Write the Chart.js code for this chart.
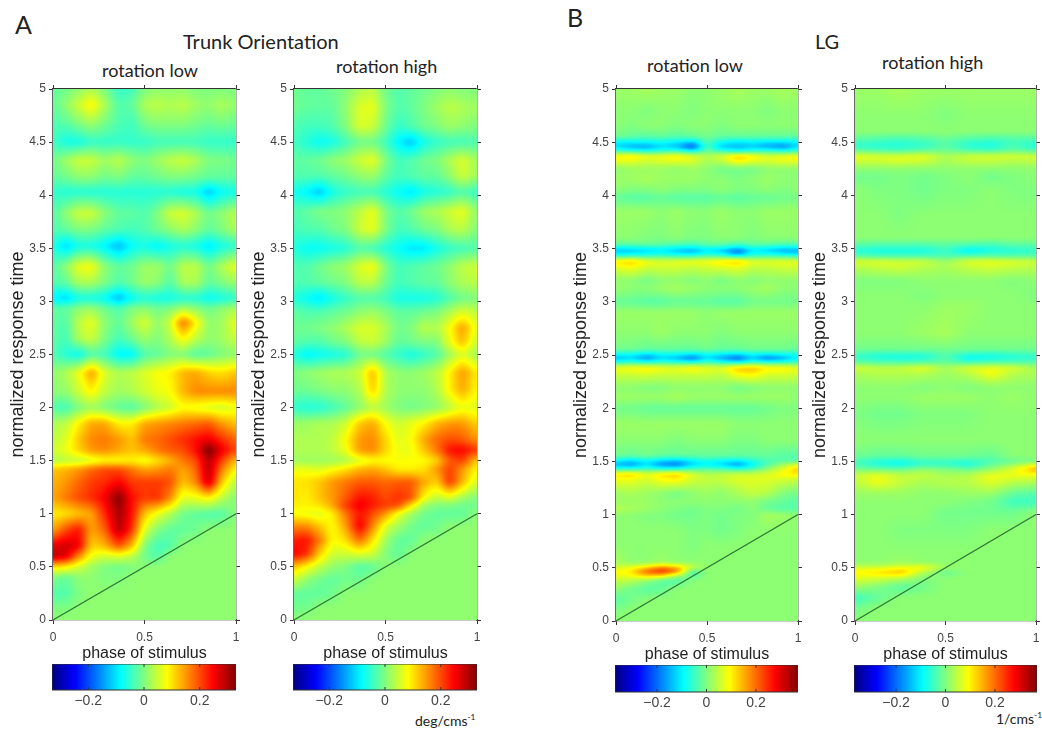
<!DOCTYPE html>
<html>
<head>
<meta charset="utf-8">
<title>Trunk Orientation and LG</title>
<script src="https://cdn.jsdelivr.net/npm/chart.js@4"></script>
<style>
  body { margin: 0; background: #fff; width: 1042px; height: 731px; position: relative; overflow: hidden; }
  canvas { position: absolute; }
  .txt { position: absolute; white-space: nowrap; font-family: Lato, sans-serif; color: #222; line-height: 1; transform: translateY(-50%); }
  .txt sup { font-size: 60%; line-height: 0; }
</style>
</head>
<body>
<div class="txt" style="left:15px;top:24px;font-size:25px">A</div>
<div class="txt" style="left:183px;top:41px;font-size:20px">Trunk Orientation</div>
<div class="txt" style="left:102px;top:70px;font-size:18px">rotation low</div>
<div class="txt" style="left:336px;top:66px;font-size:18px">rotation high</div>
<div class="txt" style="left:567px;top:17px;font-size:25px">B</div>
<div class="txt" style="left:815px;top:41px;font-size:20px">LG</div>
<div class="txt" style="left:647px;top:65px;font-size:18px">rotation low</div>
<div class="txt" style="left:882px;top:62px;font-size:18px">rotation high</div>
<div class="txt" style="left:415px;top:721px;font-size:14px">deg/cms<sup>-1</sup></div>
<div class="txt" style="left:996px;top:719px;font-size:14px">1/cms<sup>-1</sup></div>
<script>
// axis ticks
const xTicks = [0, 0.5, 1];
const yTicks = [0, 0.5, 1, 1.5, 2, 2.5, 3, 3.5, 4, 4.5, 5];
const colorbarTicks = [-0.2, 0, 0.2];
const diagonal = [{ x: 0, y: 0 }, { x: 1, y: 1 }];

// grid columns, phase of stimulus
const colsA = [0, 0.07, 0.14, 0.21, 0.28, 0.36, 0.43, 0.5, 0.57, 0.64, 0.71, 0.78, 0.85, 0.92, 1];
const colsB1 = [0, 0.08, 0.17, 0.25, 0.33, 0.42, 0.5, 0.58, 0.67, 0.75, 0.83, 0.92, 1];
const colsB2 = [0, 0.125, 0.25, 0.375, 0.5, 0.625, 0.75, 0.875, 1];

// grid rows, normalized response time
const rowsA1 = [5, 4.85, 4.7, 4.5, 4.33, 4.17, 4.03, 3.83, 3.68, 3.52, 3.33, 3.18, 3.03, 2.93, 2.8, 2.65, 2.5, 2.33, 2.15, 2, 1.85, 1.7, 1.6, 1.5, 1.42, 1.3, 1.15, 1, 0.85, 0.7, 0.6, 0.5, 0.4, 0.25, 0.1, 0];
const rowsA2 = [5, 4.83, 4.65, 4.5, 4.33, 4.18, 4.03, 3.85, 3.68, 3.5, 3.33, 3.18, 3.03, 2.9, 2.75, 2.62, 2.5, 2.33, 2.17, 2, 1.85, 1.7, 1.6, 1.5, 1.42, 1.3, 1.15, 1.08, 1, 0.88, 0.75, 0.62, 0.5, 0.38, 0.25, 0.12, 0];
const rowsB1 = [5, 4.8, 4.65, 4.55, 4.5, 4.46, 4.42, 4.37, 4.33, 4.25, 4.15, 4.05, 3.98, 3.85, 3.6, 3.54, 3.5, 3.47, 3.43, 3.38, 3.33, 3.2, 3.13, 3, 2.9, 2.7, 2.55, 2.5, 2.47, 2.43, 2.38, 2.33, 2.2, 2.1, 2, 1.85, 1.7, 1.55, 1.5, 1.47, 1.43, 1.38, 1.33, 1.2, 1.12, 1.05, 1, 0.85, 0.7, 0.55, 0.5, 0.47, 0.43, 0.38, 0.3, 0.2, 0.1, 0];
const rowsB2 = [5, 4.75, 4.6, 4.52, 4.47, 4.42, 4.37, 4.33, 4.25, 4.18, 4.05, 3.8, 3.6, 3.53, 3.48, 3.43, 3.38, 3.33, 3.2, 3.05, 2.95, 2.7, 2.55, 2.5, 2.47, 2.43, 2.38, 2.33, 2.2, 2.1, 1.95, 1.7, 1.55, 1.5, 1.47, 1.43, 1.37, 1.3, 1.2, 1.12, 1.02, 0.85, 0.65, 0.55, 0.5, 0.46, 0.4, 0.32, 0.22, 0.12, 0];

// cell values, in hundredths of the colour scale units
const valuesA1 = [
  [-2, -1, 1, 3, 0, -5, -4, 0, 1, 1, 1, 0, 0, 0, 0],
  [-2, 1, 5, 9, 3, -3, -2, 3, 4, 3, 4, 2, 1, 3, 1],
  [-3, -2, 1, 3, 0, -3, -4, 0, 1, 1, 1, 0, -1, 0, -1],
  [-4, -7, -7, -5, -5, -5, -5, -5, -4, -4, -4, -4, -5, -5, -5],
  [-1, 2, 5, 5, 2, 4, 1, 0, 2, 4, 5, 3, 0, 0, -1],
  [-2, -1, 1, 1, -1, 0, -2, -2, -1, 0, 0, -1, -2, -2, -2],
  [-5, -6, -6, -6, -6, -6, -6, -6, -6, -6, -7, -7, -12, -8, -7],
  [-3, 1, 5, 5, 1, -2, -2, -3, 0, 5, 6, 3, -1, 1, 4],
  [-3, -2, 0, 0, -2, -3, -4, -3, -1, 1, 3, 1, -2, 0, 3],
  [-6, -11, -7, -7, -9, -13, -8, -7, -9, -7, -6, -7, -10, -7, -5],
  [-3, 1, 7, 8, 1, -2, -1, 2, 2, -1, 4, 4, -1, 3, 7],
  [-3, -2, 3, 3, 0, -3, -1, 2, 1, -3, 3, 3, -2, 0, 2],
  [-9, -11, -7, -7, -8, -13, -8, -6, -7, -7, -6, -6, -8, -7, -5],
  [-2, -2, 1, 2, -1, -3, 0, 1, -1, 0, 3, 1, -1, 1, 3],
  [-2, -3, 4, 7, 1, -2, 2, 6, 1, 5, 18, 9, 1, 2, 7],
  [-2, -4, 3, 5, 0, -4, -1, 2, 0, 3, 9, 4, 1, 2, 5],
  [-3, -6, -8, -3, -4, -9, -9, -3, -2, 0, 0, -3, -2, 0, 1],
  [1, 3, 7, 15, 6, 3, 4, 6, 8, 9, 13, 14, 11, 10, 12],
  [1, 1, 5, 9, 4, 2, 3, 5, 7, 8, 13, 16, 16, 16, 16],
  [-3, -4, 0, 2, 0, -2, -3, 0, 3, 5, 8, 7, 6, 5, 7],
  [3, 4, 9, 14, 14, 9, 9, 14, 15, 16, 17, 18, 19, 15, 12],
  [4, 6, 12, 16, 17, 15, 12, 17, 18, 20, 22, 24, 26, 22, 18],
  [5, 7, 11, 15, 16, 14, 12, 14, 17, 19, 20, 24, 34, 26, 20],
  [3, 4, 4, 6, 8, 8, 9, 7, 10, 13, 17, 20, 30, 21, 12],
  [12, 13, 15, 18, 20, 20, 17, 14, 15, 17, 14, 18, 30, 17, 8],
  [13, 15, 18, 21, 22, 25, 21, 21, 21, 20, 12, 16, 29, 12, 3],
  [14, 17, 20, 22, 25, 33, 24, 21, 22, 16, 6, 7, 9, 4, 0],
  [9, 10, 12, 14, 22, 31, 24, 12, 7, 3, -1, -2, -3, -3, 1],
  [14, 20, 24, 14, 18, 30, 22, 6, 0, -2, -2, -1, 1, 1, 1],
  [26, 28, 26, 11, 13, 20, 13, 0, -4, -3, 1, 1, 1, 1, 1],
  [29, 27, 16, 7, 5, 6, 4, -1, -3, 1, 1, 1, 1, 1, 1],
  [10, 9, 5, 2, 0, -1, 0, 1, 1, 1, 1, 1, 1, 1, 1],
  [0, -2, 1, 1, 0, 0, 1, 1, 1, 1, 1, 1, 1, 1, 1],
  [-3, -3, 0, 1, 1, 1, 1, 1, 1, 1, 1, 1, 1, 1, 1],
  [0, 0, 1, 1, 1, 1, 1, 1, 1, 1, 1, 1, 1, 1, 1],
  [1, 1, 1, 1, 1, 1, 1, 1, 1, 1, 1, 1, 1, 1, 1]
];
const valuesA2 = [
  [-1, -2, -2, -1, 0, 3, 4, -1, -3, -2, -1, 0, 1, 0, 0],
  [-1, -2, -2, -2, 1, 6, 7, 0, -3, -2, 0, 2, 4, 3, 2],
  [-3, -4, -4, -3, 0, 6, 5, -1, -5, -3, -1, 0, 2, 1, 0],
  [-4, -6, -8, -7, -4, -1, -1, -4, -9, -12, -7, -5, -4, -4, -3],
  [-2, -2, -1, 1, 2, 5, 7, 0, -4, -3, -1, 0, 3, 6, 2],
  [-3, -3, -3, -2, -1, 1, 2, -2, -4, -3, -2, -2, 1, 5, 2],
  [-7, -9, -12, -7, -5, -4, -4, -6, -8, -10, -7, -6, -5, -3, -5],
  [-3, -2, 0, 0, 1, 4, 7, 0, -3, -1, 2, 3, 5, 7, 1],
  [-4, -3, -3, -1, 0, 5, 7, 0, -4, -3, -1, 0, 3, 4, 0],
  [-6, -8, -8, -7, -6, -3, -4, -6, -8, -10, -10, -7, -5, -4, -3],
  [-3, -3, -1, 1, 2, 6, 8, 0, -4, -3, -2, -1, 1, 4, 5],
  [-3, -3, -2, -1, 0, 4, 4, -1, -4, -3, -2, -2, 1, 3, 4],
  [-6, -8, -10, -7, -5, -3, -3, -4, -7, -7, -7, -6, -3, -1, 0],
  [-2, -3, -3, -2, -1, 1, 2, 0, -2, -2, -1, 0, 3, 6, 4],
  [-1, -1, 0, 1, 3, 6, 6, 3, -1, 0, 4, 3, 8, 15, 6],
  [-2, -3, -3, -1, 0, 4, 5, 2, -2, -1, 0, 0, 7, 13, 4],
  [-6, -9, -8, -7, -6, -1, -1, -3, -5, -7, -5, -3, 2, 6, 2],
  [0, 1, 2, 3, 3, 5, 13, 3, 1, 1, 2, 4, 9, 15, 9],
  [-1, -1, 0, 1, 1, 3, 12, 3, 1, 1, 1, 3, 9, 14, 8],
  [-5, -6, -6, -4, -2, 1, 4, 2, 0, -1, 0, 1, 4, 7, 6],
  [2, 2, 3, 3, 5, 12, 14, 8, 5, 7, 9, 13, 15, 15, 11],
  [3, 3, 3, 4, 8, 15, 16, 11, 6, 8, 14, 18, 20, 19, 15],
  [3, 3, 3, 4, 7, 15, 16, 11, 7, 7, 12, 17, 24, 25, 21],
  [2, 2, 2, 2, 3, 6, 8, 8, 8, 8, 8, 11, 19, 21, 11],
  [7, 7, 6, 8, 10, 13, 14, 12, 9, 9, 10, 15, 21, 15, 8],
  [10, 10, 12, 15, 17, 19, 19, 18, 19, 19, 14, 11, 22, 13, 5],
  [10, 9, 12, 15, 19, 24, 23, 20, 22, 20, 8, 4, 6, 2, 0],
  [9, 9, 10, 14, 21, 26, 23, 21, 20, 10, 2, 0, 0, -1, -1],
  [8, 7, 6, 9, 17, 24, 20, 15, 7, 2, -1, -2, -2, -2, 1],
  [16, 16, 12, 8, 14, 26, 16, 6, 2, -1, -2, -1, 1, 1, 1],
  [23, 24, 17, 8, 10, 18, 10, 2, -2, -2, 1, 1, 1, 1, 1],
  [25, 22, 11, 5, 5, 6, 5, 0, -2, 1, 1, 1, 1, 1, 1],
  [12, 8, 4, 1, 0, -3, -2, 1, 1, 1, 1, 1, 1, 1, 1],
  [5, 1, -1, -2, -1, -1, 1, 1, 1, 1, 1, 1, 1, 1, 1],
  [-2, -2, -2, -1, 1, 1, 1, 1, 1, 1, 1, 1, 1, 1, 1],
  [-1, -1, 1, 1, 1, 1, 1, 1, 1, 1, 1, 1, 1, 1, 1],
  [1, 1, 1, 1, 1, 1, 1, 1, 1, 1, 1, 1, 1, 1, 1]
];
const valuesB1 = [
  [2, 2, 3, 2, 2, 1, 1, 2, 3, 2, 2, 3, 2],
  [1, 1, 0, 1, 1, 0, 1, 1, 1, 1, 0, 1, 1],
  [1, 0, 1, 1, 0, 1, 1, 0, 1, 1, 1, 1, 1],
  [-1, -2, -3, -2, -3, -2, -1, -2, -2, -2, -2, -2, -2],
  [-10, -10, -9, -9, -10, -13, -3, -9, -11, -10, -11, -11, -10],
  [-12, -16, -17, -12, -15, -24, -4, -14, -15, -14, -17, -19, -12],
  [-5, -7, -9, -7, -6, -10, -2, -6, -10, -7, -6, -8, -6],
  [10, 12, 9, 9, 11, 8, 4, 7, 14, 11, 7, 9, 10],
  [8, 8, 6, 7, 8, 7, 3, 5, 11, 8, 7, 8, 8],
  [1, 2, 2, 2, 1, 2, 1, -1, -1, -1, 1, 1, 1],
  [2, 2, 3, 2, 2, 2, 1, 1, 0, 1, 2, 1, 1],
  [1, 0, 0, 1, 0, 0, 0, 1, 0, 0, 1, 0, 1],
  [-2, -3, -3, -2, -3, -3, -3, -2, -3, -2, -2, -1, -1],
  [2, 2, 2, 1, 2, 1, 1, 2, 1, 1, 2, 2, 2],
  [1, 1, 0, 0, 1, 0, 0, 1, 1, 0, 1, 1, 1],
  [-2, -2, -1, -2, -3, -4, -2, -2, -4, -2, -2, -3, -3],
  [-11, -11, -10, -9, -11, -12, -9, -10, -14, -9, -11, -13, -12],
  [-14, -14, -12, -11, -14, -16, -11, -14, -23, -11, -12, -16, -17],
  [-6, -5, -5, -4, -5, -5, -3, -4, -8, -5, -4, -4, -5],
  [12, 14, 9, 7, 8, 9, 9, 12, 14, 8, 8, 8, 8],
  [7, 9, 6, 6, 6, 5, 6, 7, 8, 5, 5, 6, 6],
  [1, 1, -1, 1, 1, 0, 1, -1, 1, 0, 1, 1, 1],
  [2, 1, 1, 2, 3, 2, 1, 1, 1, 2, 3, 1, 1],
  [-2, -2, -3, -3, -2, -2, -2, -3, -3, -1, -1, -1, -1],
  [2, 2, 2, 2, 2, 2, 1, 2, 2, 2, 2, 2, 2],
  [1, 1, 1, 2, 1, 1, 1, 0, 1, 1, 1, 1, 1],
  [-1, -1, -2, -2, -2, -2, -1, -2, -2, -1, -1, -1, -2],
  [-10, -10, -13, -10, -10, -12, -10, -11, -13, -10, -11, -10, -8],
  [-16, -13, -19, -13, -16, -22, -12, -18, -23, -14, -22, -17, -11],
  [-6, -5, -6, -5, -5, -6, -4, -6, -8, -5, -5, -5, -4],
  [9, 10, 11, 9, 8, 11, 8, 8, 14, 15, 11, 11, 8],
  [6, 6, 7, 6, 6, 6, 6, 5, 10, 11, 7, 7, 6],
  [1, 1, 0, 0, 1, 1, 1, 1, -1, 0, 1, 1, 1],
  [2, 2, 2, 2, 3, 2, 2, 2, 2, 2, 2, 2, 1],
  [-1, -1, -2, -2, -2, -2, -2, -2, -2, -2, -1, 0, 0],
  [2, 2, 2, 2, 2, 2, 2, 2, 1, 1, 1, 1, 1],
  [1, 1, 1, 1, 0, 1, 1, 1, 0, 0, 1, 1, 1],
  [-1, -2, -1, -2, -2, -2, -2, -2, -2, -2, -2, -3, -3],
  [-10, -13, -10, -13, -15, -11, -8, -10, -11, -7, -4, -3, -3],
  [-16, -18, -12, -19, -21, -13, -11, -13, -19, -11, -4, 3, 7],
  [-6, -7, -5, -7, -7, -4, -3, -4, -6, -4, 1, 7, 14],
  [12, 14, 8, 12, 14, 7, 4, 5, 6, 6, 7, 10, 11],
  [8, 8, 6, 9, 10, 6, 5, 5, 7, 7, 7, 6, 5],
  [2, 3, 2, 1, -1, 1, 2, 1, 3, 5, 4, 0, -1],
  [2, 2, 2, 1, 1, 1, 1, 1, 1, 1, -1, -2, -3],
  [4, 3, 2, 1, 0, -1, 0, 0, -1, 1, -2, -3, -3],
  [1, 1, 0, 0, -1, -1, 0, -1, 0, 0, 3, 2, 1],
  [1, 1, 1, 1, 1, 0, 0, -1, 0, 1, 1, 1, 1],
  [1, 1, 1, 1, 1, 0, 1, 1, 1, 1, 1, 1, 1],
  [3, 1, 1, 2, 1, 1, 1, 1, 1, 1, 1, 1, 1],
  [6, 8, 12, 18, 15, 6, 1, 1, 1, 1, 1, 1, 1],
  [9, 11, 23, 28, 22, -4, 1, 1, 1, 1, 1, 1, 1],
  [8, 9, 14, 13, 4, -4, 1, 1, 1, 1, 1, 1, 1],
  [5, 4, 1, -3, -4, 1, 1, 1, 1, 1, 1, 1, 1],
  [1, -1, -3, -2, 1, 1, 1, 1, 1, 1, 1, 1, 1],
  [-3, -1, 1, 1, 1, 1, 1, 1, 1, 1, 1, 1, 1],
  [0, 1, 1, 1, 1, 1, 1, 1, 1, 1, 1, 1, 1],
  [1, 1, 1, 1, 1, 1, 1, 1, 1, 1, 1, 1, 1]
];
const valuesB2 = [
  [2, 2, 3, 2, 2, 2, 2, 2, 2],
  [1, 1, 1, 1, 0, 1, 1, 1, 1],
  [1, 1, 1, 1, 1, 1, 1, 1, 1],
  [-3, -4, -5, -4, -2, -4, -5, -4, -4],
  [-6, -7, -7, -6, -3, -7, -8, -4, -8],
  [-2, -3, -4, -2, -1, -3, -4, -2, -3],
  [8, 7, 7, 8, 3, 6, 7, 7, 6],
  [6, 6, 7, 6, 3, 5, 5, 4, 5],
  [1, 1, 1, 1, 1, 1, 1, 1, 1],
  [-1, -1, 0, -1, 0, 1, -1, 0, 1],
  [1, 0, 0, -1, 0, 0, 1, 0, 0],
  [1, 1, 0, 1, 1, 1, 1, 1, 1],
  [1, 1, 1, 1, 1, 1, 1, 1, 1],
  [-3, -4, -4, -4, -3, -4, -5, -3, -3],
  [-7, -8, -8, -8, -5, -11, -8, -7, -6],
  [-3, -4, -4, -4, -4, -3, -3, -3, -3],
  [7, 7, 6, 6, 2, 7, 8, 7, 6],
  [4, 5, 6, 4, 3, 5, 6, 5, 4],
  [0, 0, 0, 1, 1, 1, 1, 0, 1],
  [1, 1, 1, 0, 1, 1, 1, 1, 0],
  [1, 1, 1, 1, 2, 2, 1, 1, 1],
  [1, 1, 1, 2, 3, 1, 1, 1, 1],
  [-1, -1, -1, -1, -1, -1, -1, -1, -1],
  [-5, -7, -7, -7, -3, -7, -8, -6, -5],
  [-5, -7, -8, -7, -3, -10, -8, -7, -6],
  [-2, -3, -3, -3, -2, -4, -3, -3, -3],
  [7, 5, 5, 8, 3, 7, 8, 7, 3],
  [3, 4, 4, 4, 2, 4, 9, 4, 3],
  [1, 1, 1, 0, 1, 0, 1, 1, 1],
  [1, 1, 1, 2, 2, 2, 1, 2, 1],
  [0, -1, -1, 0, 0, 0, 1, 1, 1],
  [1, 1, 1, 1, 1, 1, 1, 1, 1],
  [-1, -2, -2, -1, -1, -1, -2, 1, 1],
  [-4, -7, -8, -5, -5, -6, -4, -2, -1],
  [-4, -7, -9, -6, -6, -8, -2, 2, 7],
  [-1, -2, -2, 1, 0, -2, 1, 7, 16],
  [5, 8, 5, 5, 3, 4, 8, 8, 8],
  [4, 8, 5, 3, 4, 4, 7, 4, 3],
  [2, 2, 2, 1, 1, 2, 2, -2, -3],
  [1, 1, 1, 1, 1, 0, -1, -5, -5],
  [1, 1, 1, 1, -1, -1, -1, -1, 1],
  [1, 1, 0, 0, 0, 0, 1, 1, 1],
  [1, 1, 1, 1, 1, 1, 1, 1, 1],
  [1, 1, 2, 1, 1, 1, 1, 1, 1],
  [6, 6, 8, 10, 2, 1, 1, 1, 1],
  [10, 12, 15, 4, -2, 1, 1, 1, 1],
  [7, 6, 4, 0, 1, 1, 1, 1, 1],
  [2, 0, -3, -1, 1, 1, 1, 1, 1],
  [-5, -2, 1, 1, 1, 1, 1, 1, 1],
  [-1, 1, 1, 1, 1, 1, 1, 1, 1],
  [1, 1, 1, 1, 1, 1, 1, 1, 1]
];

// matlab jet, f in 0..1
const jet = (f) => {
    const c = (v) => Math.round(255 * Math.max(0, Math.min(1, v)));
    return [
        c(Math.min(4 * f - 1.5, -4 * f + 4.5)),
        c(Math.min(4 * f - 0.5, -4 * f + 3.5)),
        c(Math.min(4 * f + 0.5, -4 * f + 2.5))
    ];
};

// index of the segment of a sorted list that holds v, and the fraction into it
const locate = (list, v) => {
    let i = 0;
    while (i < list.length - 2 && v > list[i + 1]) i++;
    return [i, Math.max(0, Math.min(1, (v - list[i]) / (list[i + 1] - list[i])))];
};

// soften the field along one direction, same idea as the blurred source image
const boxBlur = (field, w, h, radius, horizontal) => {
    const out = new Float32Array(field.length);
    const n = horizontal ? w : h;
    const m = horizontal ? h : w;
    for (let b = 0; b < m; b++) {
        for (let a = 0; a < n; a++) {
            let sum = 0;
            for (let k = -radius; k <= radius; k++) {
                const p = Math.max(0, Math.min(n - 1, a + k));
                sum += horizontal ? field[b * w + p] : field[p * w + b];
            }
            out[horizontal ? b * w + a : a * w + b] = sum / (2 * radius + 1);
        }
    }
    return out;
};

// paints the value grid into the plot area, each pixel located through the scales
const heatmapPlugin = {
    id: 'heatmap',
    beforeDatasetsDraw(chart, args, opts) {
        if (!opts.values) return;
        const { left, top, width, height } = chart.chartArea;
        const xs = chart.scales.x;
        const ys = chart.scales.y;
        const w = Math.round(width);
        const h = Math.round(height);
        const rows = [...opts.rows].reverse();
        const values = [...opts.values].reverse();
        let field = new Float32Array(w * h);
        for (let py = 0; py < h; py++) {
            const [ri, rt] = locate(rows, ys.getValueForPixel(top + py + 0.5));
            for (let px = 0; px < w; px++) {
                const [ci, ct] = locate(opts.cols, xs.getValueForPixel(left + px + 0.5));
                const lo = values[ri][ci] * (1 - ct) + values[ri][ci + 1] * ct;
                const hi = values[ri + 1][ci] * (1 - ct) + values[ri + 1][ci + 1] * ct;
                field[py * w + px] = lo * (1 - rt) + hi * rt;
            }
        }
        for (let pass = 0; pass < 2; pass++) {
            field = boxBlur(field, w, h, opts.blurX, true);
            field = boxBlur(field, w, h, opts.blurY, false);
        }
        const off = document.createElement('canvas');
        off.width = w;
        off.height = h;
        const octx = off.getContext('2d');
        const img = octx.createImageData(w, h);
        for (let i = 0; i < field.length; i++) {
            const rgb = jet(field[i] / 100 / (2 * opts.limit) + 0.5);
            img.data.set([rgb[0], rgb[1], rgb[2], 255], i * 4);
        }
        octx.putImageData(img, 0, 0);
        chart.ctx.drawImage(off, left, top, width, height);
    }
};

// colour bar strip, x scale maps each pixel column to a value
const colorbarPlugin = {
    id: 'colorbar',
    beforeDatasetsDraw(chart, args, opts) {
        if (!opts.limit) return;
        const { left, right, top, bottom } = chart.chartArea;
        const xs = chart.scales.x;
        const ctx = chart.ctx;
        for (let px = Math.floor(left); px < right; px++) {
            const rgb = jet(xs.getValueForPixel(px + 0.5) / (2 * opts.limit) + 0.5);
            ctx.fillStyle = `rgb(${rgb[0]},${rgb[1]},${rgb[2]})`;
            ctx.fillRect(px, top, 1, bottom - top);
        }
        ctx.strokeStyle = '#333';
        ctx.lineWidth = 1;
        ctx.strokeRect(left, top, right - left, bottom - top);
        colorbarTicks.forEach((v) => {
            const p = xs.getPixelForValue(v);
            ctx.beginPath();
            ctx.moveTo(p, top);
            ctx.lineTo(p, top + 3);
            ctx.moveTo(p, bottom);
            ctx.lineTo(p, bottom - 3);
            ctx.stroke();
        });
    }
};

Chart.register(heatmapPlugin, colorbarPlugin);

const addCanvas = (left, top, width, height) => {
    const el = document.createElement('canvas');
    el.width = width;
    el.height = height;
    el.style.left = left + 'px';
    el.style.top = top + 'px';
    el.style.width = width + 'px';
    el.style.height = height + 'px';
    document.body.appendChild(el);
    return el.getContext('2d');
};

const tickFont = { family: 'Liberation Sans', size: 12 };
const PLOT_TOP = 89;
const AXIS_LEFT = 47;
const AXIS_SIDE = 12;
const AXIS_BOTTOM = 43;

const setTicks = (list) => (scale) => {
    scale.ticks = list.map((v) => ({ value: v }));
};

const sideAxis = (position, list, max) => ({
    type: 'linear',
    position,
    min: 0,
    max,
    afterBuildTicks: setTicks(list),
    afterFit: (s) => {
        if (s.isHorizontal()) s.height = AXIS_SIDE;
        else s.width = AXIS_SIDE;
    },
    ticks: { display: false },
    grid: { drawOnChartArea: false, tickLength: 4, color: '#333' },
    border: { color: position === 'top' ? '#333' : '#666', width: position === 'top' ? 1.2 : 1.5 }
});

const drawPanel = (p) => {
    const w = p.right - p.left;
    const h = p.bottom - PLOT_TOP;
    const ctx = addCanvas(p.left - AXIS_LEFT, PLOT_TOP - AXIS_SIDE, w + AXIS_LEFT + AXIS_SIDE, h + AXIS_SIDE + AXIS_BOTTOM);
    new Chart(ctx, {
        type: 'scatter',
        data: {
            datasets: [{
                data: diagonal,
                showLine: true,
                borderColor: '#2f7a35',
                borderWidth: 1.2,
                pointRadius: 0
            }]
        },
        options: {
            responsive: false,
            animation: false,
            layout: { padding: 0 },
            plugins: {
                legend: { display: false },
                tooltip: { enabled: false },
                heatmap: { cols: p.cols, rows: p.rows, values: p.values, limit: p.limit, blurX: 3, blurY: 2 }
            },
            scales: {
                x: {
                    type: 'linear',
                    min: 0,
                    max: 1,
                    afterBuildTicks: setTicks(xTicks),
                    afterFit: (s) => { s.height = AXIS_BOTTOM; },
                    ticks: { font: tickFont, color: '#444', padding: 6, maxRotation: 0, callback: (v) => String(v) },
                    grid: { drawOnChartArea: false, tickLength: 4, color: '#333' },
                    border: { color: '#333', width: 1.2 },
                    title: { display: true, text: 'phase of stimulus', color: '#222', padding: 0, font: { family: 'Liberation Sans', size: 16 } }
                },
                y: {
                    type: 'linear',
                    min: 0,
                    max: 5,
                    afterBuildTicks: setTicks(yTicks),
                    afterFit: (s) => { s.width = AXIS_LEFT; },
                    ticks: { font: tickFont, color: '#444', padding: 3, callback: (v) => String(v) },
                    grid: { drawOnChartArea: false, tickLength: 4, color: '#333' },
                    border: { color: '#666', width: 1.5 },
                    title: { display: true, text: 'normalized response time', color: '#222', padding: 1, font: { family: 'Liberation Sans', size: 18 } }
                },
                x2: sideAxis('top', xTicks, 1),
                y2: sideAxis('right', yTicks, 5)
            }
        }
    });
};

const drawColorbar = (left, right, top, bottom, limit) => {
    const ctx = addCanvas(left, top, right - left, bottom - top + 24);
    new Chart(ctx, {
        type: 'scatter',
        data: { datasets: [{ data: [], pointRadius: 0 }] },
        options: {
            responsive: false,
            animation: false,
            layout: { padding: 0 },
            plugins: {
                legend: { display: false },
                tooltip: { enabled: false },
                colorbar: { limit }
            },
            scales: {
                x: {
                    type: 'linear',
                    min: -limit,
                    max: limit,
                    afterBuildTicks: setTicks(colorbarTicks),
                    afterFit: (s) => { s.height = 24; },
                    ticks: {
                        font: { family: 'Liberation Sans', size: 14 },
                        color: '#444',
                        padding: 3,
                        maxRotation: 0,
                        callback: (v) => String(v).replace('-', '\u2212')
                    },
                    grid: { display: false, drawTicks: false },
                    border: { display: false }
                },
                y: { display: false, min: 0, max: 1 }
            }
        }
    });
};

drawPanel({ left: 53, right: 236, bottom: 620, cols: colsA, rows: rowsA1, values: valuesA1, limit: 0.33 });
drawPanel({ left: 294, right: 477, bottom: 620, cols: colsA, rows: rowsA2, values: valuesA2, limit: 0.33 });
drawPanel({ left: 616, right: 798, bottom: 621, cols: colsB1, rows: rowsB1, values: valuesB1, limit: 0.37 });
drawPanel({ left: 855, right: 1036, bottom: 621, cols: colsB2, rows: rowsB2, values: valuesB2, limit: 0.37 });

drawColorbar(52, 236, 664, 690, 0.33);
drawColorbar(293, 477, 664, 690, 0.33);
drawColorbar(615, 798, 665, 692, 0.37);
drawColorbar(854, 1037, 665, 692, 0.37);
</script>
</body>
</html>
